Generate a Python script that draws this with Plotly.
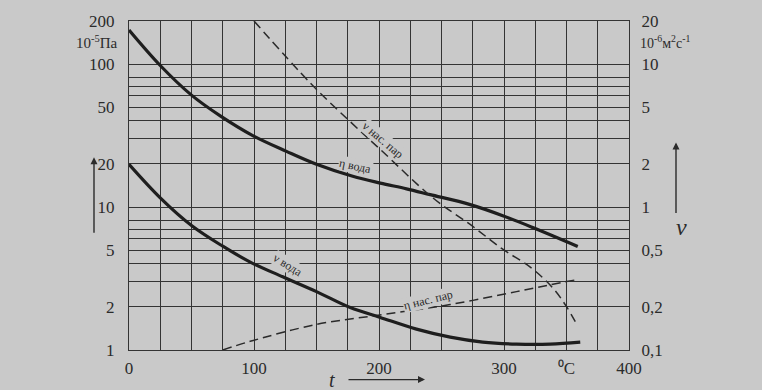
import plotly.graph_objects as go
import math

# --- data ---
# dynamic viscosity of water, 10^-5 Pa*s
t_eta_water = [0, 25, 50, 73, 99, 126, 150, 179, 201, 222, 241, 273, 299, 323, 359]
eta_water = [173, 97.7, 60.6, 43.4, 31.6, 24.5, 19.9, 16.4, 14.7, 13.4, 12.2, 10.4, 8.7, 7.19, 5.3]

# dynamic viscosity of saturated steam, 10^-5 Pa*s
t_eta_steam = [75, 97, 150, 203, 257, 310, 337, 357]
eta_steam = [1.0, 1.15, 1.51, 1.77, 2.08, 2.56, 2.86, 3.09]

# kinematic viscosity of water, 10^-6 m2/s
t_nu_water = [0, 25, 50, 75, 97, 123, 150, 177, 201, 230, 257, 283, 310, 337, 361]
nu_water = [1.99, 1.16, 0.743, 0.532, 0.412, 0.325, 0.256, 0.198, 0.169, 0.140, 0.123, 0.1136, 0.110, 0.110, 0.1136]

# kinematic viscosity of saturated steam, 10^-6 m2/s
t_nu_steam = [100, 146, 177, 201, 243, 274, 299, 321, 339, 350, 359]
nu_steam = [20, 7.22, 3.95, 2.53, 1.16, 0.743, 0.507, 0.380, 0.272, 0.201, 0.147]

x_ticks = [0, 100, 200, 300, 350, 400]
x_ticktext = ["0", "100", "200", "300", "⁰C", "400"]
x_minor = [25, 50, 75, 125, 150, 175, 225, 250, 275, 325, 375]

left_ticks = [1, 2, 5, 10, 20, 50, 100, 200]
left_ticktext = ["1", "2", "5", "10", "20", "50", "100", "200"]
left_minor = [3, 4, 6, 7, 8, 30, 40, 60, 70, 80]
right_ticks = [0.1, 0.2, 0.5, 1, 2, 5, 10, 20]
right_ticktext = ["0,1", "0,2", "0,5", "1", "2", "5", "10", "20"]

BG = "#c9c9c9"
INK = "#2b2b2b"
GRID = "#333333"
FONT = "Liberation Serif"

fig = go.Figure()
fig.add_trace(go.Scatter(x=t_eta_water, y=eta_water, mode="lines",
                         line=dict(color="#1e1e1e", width=3.2, shape="spline"),
                         yaxis="y", showlegend=False))
fig.add_trace(go.Scatter(x=t_eta_steam, y=eta_steam, mode="lines",
                         line=dict(color="#2a2a2a", width=1.5, dash="9px,5px", shape="spline"),
                         yaxis="y", showlegend=False))
fig.add_trace(go.Scatter(x=t_nu_water, y=nu_water, mode="lines",
                         line=dict(color="#1e1e1e", width=3.2, shape="spline"),
                         yaxis="y2", showlegend=False))
fig.add_trace(go.Scatter(x=t_nu_steam, y=nu_steam, mode="lines",
                         line=dict(color="#2a2a2a", width=1.5, dash="9px,5px", shape="spline"),
                         yaxis="y2", showlegend=False))

fig.update_layout(
    width=762, height=390,
    margin=dict(l=129, r=133, t=18, b=39),
    paper_bgcolor=BG, plot_bgcolor=BG,
    font=dict(family=FONT, color=INK, size=17),
    xaxis=dict(range=[0, 400], tickmode="array", tickvals=x_ticks, ticktext=x_ticktext,
               showgrid=True, gridcolor=GRID, gridwidth=1.4,
               minor=dict(tickmode="array", tickvals=x_minor, showgrid=True,
                          gridcolor=GRID, gridwidth=1.4, ticks=""),
               showline=True, linecolor=GRID, linewidth=1.4, mirror=True,
               ticks="outside", ticklen=2, tickcolor=BG, zeroline=False,
               tickfont=dict(size=17, family=FONT, color=INK)),
    yaxis=dict(type="log", range=[0, math.log10(200)], tickmode="array",
               tickvals=left_ticks, ticktext=left_ticktext,
               showgrid=True, gridcolor=GRID, gridwidth=1.4,
               minor=dict(tickmode="array", tickvals=left_minor, showgrid=True,
                          gridcolor=GRID, gridwidth=1.4, ticks=""),
               showline=True, linecolor=GRID, linewidth=1.4, mirror=True,
               ticks="outside", ticklen=10, tickcolor=BG, zeroline=False,
               tickfont=dict(size=17, family=FONT, color=INK)),
    yaxis2=dict(type="log", range=[-1, math.log10(20)], overlaying="y", side="right",
                tickmode="array", tickvals=right_ticks, ticktext=right_ticktext,
                showgrid=False, ticks="outside", ticklen=8, tickcolor=BG, zeroline=False,
                tickfont=dict(size=17, family=FONT, color=INK)),
)

ann = []
# units
ann.append(dict(text="10<sup>-5</sup>Па", x=-0.018, y=0.937, xref="paper", yref="paper",
                xanchor="right", yanchor="middle", showarrow=False, font=dict(size=15)))
ann.append(dict(text="10<sup>-6</sup>м<sup>2</sup>с<sup>-1</sup>", x=1.018, y=0.937, xref="paper", yref="paper",
                xanchor="left", yanchor="middle", showarrow=False, font=dict(size=14)))
# left arrow
ann.append(dict(text="", x=-0.07, y=0.586, xref="paper", yref="paper", showarrow=True,
                ax=0, ay=77, arrowhead=2, arrowsize=1, arrowwidth=1.4, arrowcolor=INK))
# right arrow with nu
ann.append(dict(text="", x=1.094, y=0.631, xref="paper", yref="paper", showarrow=True,
                ax=0, ay=72, arrowhead=2, arrowsize=1, arrowwidth=1.4, arrowcolor=INK))
ann.append(dict(text="<i>ν</i>", x=1.104, y=0.375, xref="paper", yref="paper",
                xanchor="center", yanchor="middle", showarrow=False, font=dict(size=24)))
# t arrow
ann.append(dict(text="<i>t</i>", x=0.406, y=-0.09, xref="paper", yref="paper",
                xanchor="center", yanchor="middle", showarrow=False, font=dict(size=20)))
ann.append(dict(text="", x=0.592, y=-0.09, xref="paper", yref="paper", showarrow=True,
                ax=-78, ay=0, arrowhead=2, arrowsize=1, arrowwidth=1.4, arrowcolor=INK))
# curve labels
lab = dict(showarrow=False, font=dict(size=12), bgcolor=BG, borderpad=0,
           xanchor="center", yanchor="middle", xref="x", yref="paper")
ann.append(dict(text="η вода", x=181, y=0.559, textangle=12, **lab))
ann.append(dict(text="ν нас. пар", x=203, y=0.637, textangle=40, **lab))
ann.append(dict(text="ν вода", x=127, y=0.258, textangle=32, **lab))
ann.append(dict(text="η нас. пар", x=239, y=0.153, textangle=-14, **lab))
fig.update_layout(annotations=ann)

fig.write_html(
    "out.html",
    config={"displayModeBar": False},
    post_script="document.body.style.margin='0';document.body.style.padding='0';"
                "document.body.style.background='" + BG + "';",
)
